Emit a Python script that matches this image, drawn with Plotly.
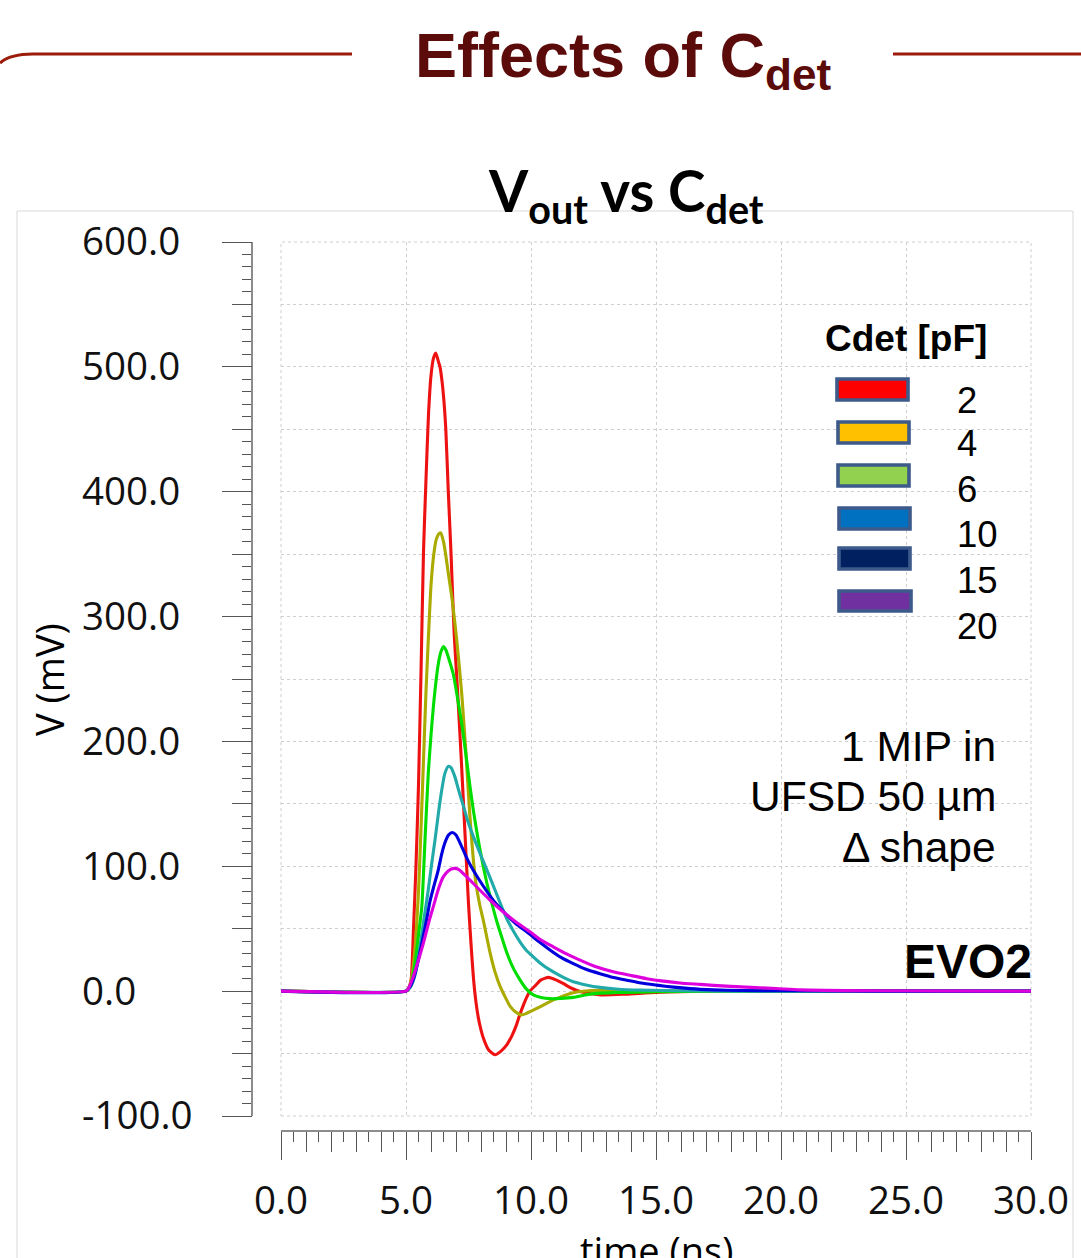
import plotly.graph_objects as go

W, H = 1081, 1258


def X(xr):
    return xr / W


def Y(yr):
    return 1 - yr / H


# ---------------- data ----------------
cdet_labels = ["2", "4", "6", "10", "15", "20"]
line_colors = ["#ee1111", "#aaaa00", "#00dd00", "#22aaaa", "#0000dd", "#dd00dd"]
legend_fill = ["#ff0000", "#ffc000", "#92d050", "#0070c0", "#002060", "#7030a0"]

t_2pF = [0, 5.0, 5.1, 5.2, 5.3, 5.4, 5.5, 5.6, 5.7, 5.8, 5.9, 6.0, 6.1, 6.19, 6.3, 6.36, 6.45,
         6.52, 6.59, 6.69, 6.8, 6.93, 7.05, 7.2, 7.3, 7.4, 7.5, 7.6, 7.7, 7.8, 7.9, 8.0, 8.1,
         8.3, 8.56, 8.8, 9.03, 9.23, 9.4, 9.55, 9.7, 9.85, 9.96, 10.2, 10.4, 10.7, 11.0, 11.3,
         11.6, 12.0, 12.8, 13.8, 15.0, 17.0, 30.0]
v_2pF = [0, 0, 2, 8, 50, 101, 165, 255, 352, 410, 462, 493, 507, 511, 504, 500, 487,
         472, 451, 401, 351, 285, 245, 190, 150, 110, 70, 38, 10, -9, -22, -31, -38,
         -47, -51, -48, -43, -36, -28, -19, -11, -4, 0, 5, 9, 11, 9, 6,
         2.5, -0.5, -3, -2.4, -1, 0, 0]

t_4pF = [0, 5.0, 5.1, 5.2, 5.3, 5.4, 5.5, 5.6, 5.7, 5.8, 5.9, 6.0, 6.1, 6.2, 6.3, 6.39, 6.5,
         6.6, 6.69, 6.85, 7.03, 7.23, 7.4, 7.55, 7.69, 7.8, 7.95, 8.09, 8.36, 8.55, 8.76, 9.0,
         9.16, 9.4, 9.6, 9.8, 10.0, 10.36, 10.7, 11.03, 11.69, 12.4, 13.5, 15.0, 30.0]
v_4pF = [0, 0, 2, 8, 22, 45, 80, 130, 185, 240, 285, 325, 348, 361, 366, 367, 360,
         348, 335, 313, 281, 238, 190, 142, 106, 86, 69, 57, 31, 16, 4, -6,
         -12, -17, -19, -18, -16, -12.6, -9, -6, -1.3, 0.5, 0.5, 0, 0]

t_6pF = [0, 5.0, 5.1, 5.2, 5.3, 5.4, 5.5, 5.63, 5.76, 5.89, 6.0, 6.16, 6.3, 6.4, 6.5, 6.6,
         6.7, 6.89, 7.05, 7.23, 7.4, 7.56, 7.7, 7.89, 8.05, 8.23, 8.4, 8.63, 8.85, 9.03, 9.3,
         9.56, 9.8, 10.09, 10.4, 10.76, 11.2, 11.69, 12.36, 13.5, 15.0, 17.0, 30.0]
v_6pF = [0, 0, 2, 6, 15, 28, 45, 67, 121, 174, 205, 241, 263, 272, 276, 273,
         267, 254, 236, 214, 189, 164, 144, 121, 104, 87, 73, 56, 42, 31, 18,
         9, 2, -3, -5, -6, -5.8, -5, -2.4, -1, -0.5, 0, 0]

t_10pF = [0, 5.0, 5.1, 5.2, 5.35, 5.5, 5.72, 5.89, 6.0, 6.16, 6.3, 6.43, 6.55, 6.69, 6.8,
          6.95, 7.09, 7.3, 7.49, 7.75, 8.03, 8.3, 8.56, 8.8, 9.03, 9.3, 9.56, 9.8, 10.09,
          10.4, 10.76, 11.2, 11.69, 12.2, 12.76, 13.5, 14.36, 16.0, 18.0, 30.0]
v_10pF = [0, 0, 1.5, 4, 12, 28, 58, 81, 98, 121, 143, 161, 174, 180, 179,
          172, 162, 148, 135, 121, 107, 94, 81, 69, 58, 48, 39.5, 33, 27.5,
          22, 17, 12, 7.5, 5, 3, 1.5, 0.8, 0.3, 0, 0]

t_15pF = [0, 5.0, 5.16, 5.3, 5.43, 5.6, 5.83, 5.96, 6.1, 6.29, 6.43, 6.56, 6.7, 6.85, 7.0,
          7.2, 7.4, 7.6, 7.9, 8.2, 8.56, 9.03, 9.4, 9.83, 10.3, 10.76, 11.2, 11.69, 12.2, 12.76,
          13.3, 13.83, 14.4, 15.03, 15.7, 16.36, 17.3, 18.36, 20.0, 23.7, 30.0]
v_15pF = [0, 0, 3.5, 10, 19.5, 35, 58, 72, 83, 97, 110, 119, 125, 127, 125,
          117, 108, 100, 90, 81, 71, 61, 54, 47.5, 40, 33, 27, 22, 17.5, 14,
          11, 8.8, 6.5, 4.8, 3.2, 2, 1, 0.5, 0.3, 0, 0]

t_20pF = [0, 5.0, 5.09, 5.29, 5.5, 5.69, 5.95, 6.09, 6.3, 6.49, 6.7, 6.92, 7.1, 7.43, 7.9,
          8.36, 8.8, 9.29, 9.96, 10.4, 10.89, 11.4, 11.96, 12.6, 13.29, 14.0, 14.63, 15.3,
          15.96, 16.76, 17.8, 19.8, 20.76, 23.7, 30.0]
v_20pF = [0, 0, 2, 11.5, 25, 38, 58, 67.5, 82, 91.5, 96.5, 98.3, 97.5, 91.5, 82,
          73, 65, 57, 47.5, 41, 35.5, 30, 24.8, 19.5, 15.5, 12.5, 10, 8,
          6.5, 5.4, 4, 2.1, 1, 0.3, 0]

series_t = [t_2pF, t_4pF, t_6pF, t_10pF, t_15pF, t_20pF]
series_v = [v_2pF, v_4pF, v_6pF, v_10pF, v_15pF, v_20pF]

x_tick_vals = [0, 5, 10, 15, 20, 25, 30]
x_tick_text = ["0.0", "5.0", "10.0", "15.0", "20.0", "25.0", "30.0"]
y_tick_vals = [-100, 0, 100, 200, 300, 400, 500, 600]
y_tick_text = ["-100.0", "0.0", "100.0", "200.0", "300.0", "400.0", "500.0", "600.0"]

x_range = [0, 30]
y_range = [-100, 600]

# ---------------- figure ----------------
fig = go.Figure()

for name, col, tt, vv in zip(cdet_labels, line_colors, series_t, series_v):
    fig.add_trace(go.Scatter(
        x=tt, y=vv, mode="lines", name=name,
        line=dict(color=col, width=3.1, shape="spline", smoothing=0.6),
        hoverinfo="skip", showlegend=False,
    ))

# helper traces so the overlay axes (extra tick sets / labels) get drawn
fig.add_trace(go.Scatter(x=x_range, y=y_range, xaxis="x2", yaxis="y2", mode="markers",
                         marker=dict(opacity=0, size=1), hoverinfo="skip", showlegend=False))
fig.add_trace(go.Scatter(x=x_range, y=y_range, xaxis="x2", yaxis="y3", mode="markers",
                         marker=dict(opacity=0, size=1), hoverinfo="skip", showlegend=False))

tick_font = dict(family="Open Sans", size=38.5, color="#111111")
grid_col = "#cfcfcf"
tick_col = "#555555"
line_col = "#8c8c8c"

fig.update_layout(
    width=W, height=H,
    margin=dict(l=0, r=0, t=0, b=0, autoexpand=False),
    paper_bgcolor="white", plot_bgcolor="white",
    showlegend=False,
    xaxis=dict(
        domain=[X(281), X(1031)], range=x_range, anchor="free", position=Y(1131),
        showline=True, linecolor=line_col, linewidth=2,
        ticks="outside", ticklen=28, tickwidth=1, tickcolor=tick_col,
        tickmode="array", tickvals=x_tick_vals, ticktext=x_tick_text,
        tickfont=tick_font, ticklabelstandoff=8, ticklabeloverflow="allow",
        showgrid=True, gridcolor=grid_col, griddash="dot", gridwidth=1,
        zeroline=False,
        minor=dict(dtick=0.5, tick0=0, ticks="outside", ticklen=10, tickwidth=1,
                   tickcolor=tick_col, showgrid=False),
    ),
    xaxis2=dict(
        overlaying="x", range=x_range, anchor="free", position=Y(1131),
        showline=False, ticks="outside", ticklen=20, tickwidth=1, tickcolor=tick_col,
        dtick=1, tick0=0, showticklabels=False, showgrid=False, zeroline=False,
    ),
    yaxis=dict(
        domain=[Y(1116), Y(242)], range=y_range, anchor="free", position=X(252),
        side="left",
        showline=True, linecolor=line_col, linewidth=2,
        ticks="outside", ticklen=29, tickwidth=1, tickcolor=tick_col,
        dtick=100, tick0=0, showticklabels=False, showgrid=False, zeroline=False,
        minor=dict(dtick=10, tick0=0, ticks="outside", ticklen=9, tickwidth=1,
                   tickcolor=tick_col, showgrid=False),
    ),
    yaxis2=dict(
        overlaying="y", range=y_range, anchor="free", position=X(252), side="left",
        showline=False, ticks="outside", ticklen=20, tickwidth=1, tickcolor=tick_col,
        dtick=50, tick0=0, showticklabels=False,
        showgrid=True, gridcolor=grid_col, griddash="dot", gridwidth=1, zeroline=False,
    ),
    yaxis3=dict(
        overlaying="y", range=y_range, anchor="free", position=X(78), side="left",
        showline=False, ticks="", tickmode="array", tickvals=y_tick_vals,
        ticktext=y_tick_text, tickfont=tick_font,
        ticklabelposition="inside", ticklabeloverflow="allow",
        showgrid=False, zeroline=False,
    ),
)
# keep the margins at zero: axes must not push them
fig.update_xaxes(automargin=False)
fig.update_yaxes(automargin=False)

# ---------------- shapes ----------------
shapes = []
# light frame around the chart panel (left, top, right sides)
shapes.append(dict(type="path", xref="paper", yref="paper",
                   path=f"M {X(17)},{Y(1258)} L {X(17)},{Y(211)} L {X(1073)},{Y(211)} L {X(1073)},{Y(1258)}",
                   line=dict(color="#d9d9d9", width=1), layer="below"))
# dotted plot-area border
shapes.append(dict(type="rect", xref="x domain", yref="y domain", x0=0, x1=1, y0=0, y1=1,
                   line=dict(color=grid_col, width=1, dash="dot"), layer="below"))
# decorative header rules
deco = "#9c1c0c"
shapes.append(dict(type="path", xref="paper", yref="paper",
                   path=f"M {X(0)},{Y(63)} Q {X(10)},{Y(54)} {X(33)},{Y(54)} L {X(352)},{Y(54)}",
                   line=dict(color=deco, width=3.2)))
shapes.append(dict(type="line", xref="paper", yref="paper",
                   x0=X(893), x1=X(1081), y0=Y(54), y1=Y(54),
                   line=dict(color=deco, width=3.2)))
# legend swatches
box_x = [(837, 908), (838, 909), (838, 909), (839, 910), (839, 910), (839, 911)]
box_y = [(379, 400), (422, 443), (465, 486), (508, 529), (548, 569), (591, 611)]
for (bx0, bx1), (by0, by1), fc in zip(box_x, box_y, legend_fill):
    shapes.append(dict(type="rect", xref="paper", yref="paper",
                       x0=X(bx0), x1=X(bx1), y0=Y(by1), y1=Y(by0),
                       line=dict(color="#3d5a8a", width=3.6), fillcolor=fc))
fig.update_layout(shapes=shapes)

# ---------------- text ----------------
ann = []


def text(s, x, y, size, family="Liberation Sans", color="#000000", xanchor="center",
         yanchor="middle", angle=0):
    ann.append(dict(text=s, x=X(x), y=Y(y), xref="paper", yref="paper",
                    xanchor=xanchor, yanchor=yanchor, showarrow=False, textangle=angle,
                    font=dict(family=family, size=size, color=color)))


text("<b>Effects of C<sub>det</sub></b>", 623, 59, 63, color="#5c0b0b")
text("<b>V<sub>out</sub> vs C<sub>det</sub></b>", 626, 194, 56.5, family="Lato")
text("V (mV)", 49, 680, 38, family="Open Sans", angle=-90)
text("time (ns)", 656, 1250, 38, family="Open Sans")
text("<b>Cdet [pF]</b>", 906, 338, 37)
label_y = [400, 443, 489, 534, 580, 626]
for lab, ly in zip(cdet_labels, label_y):
    text(lab, 955, ly, 36.5, xanchor="left")
text("1 MIP in", 998, 746, 42.5, xanchor="right")
text("UFSD 50 µm", 998, 796, 42.5, xanchor="right")
text("Δ shape", 998, 847, 42.5, xanchor="right")
text("<b>EVO2</b>", 1034, 962, 48, xanchor="right")
fig.update_layout(annotations=ann)

fig.write_html("out.html")
